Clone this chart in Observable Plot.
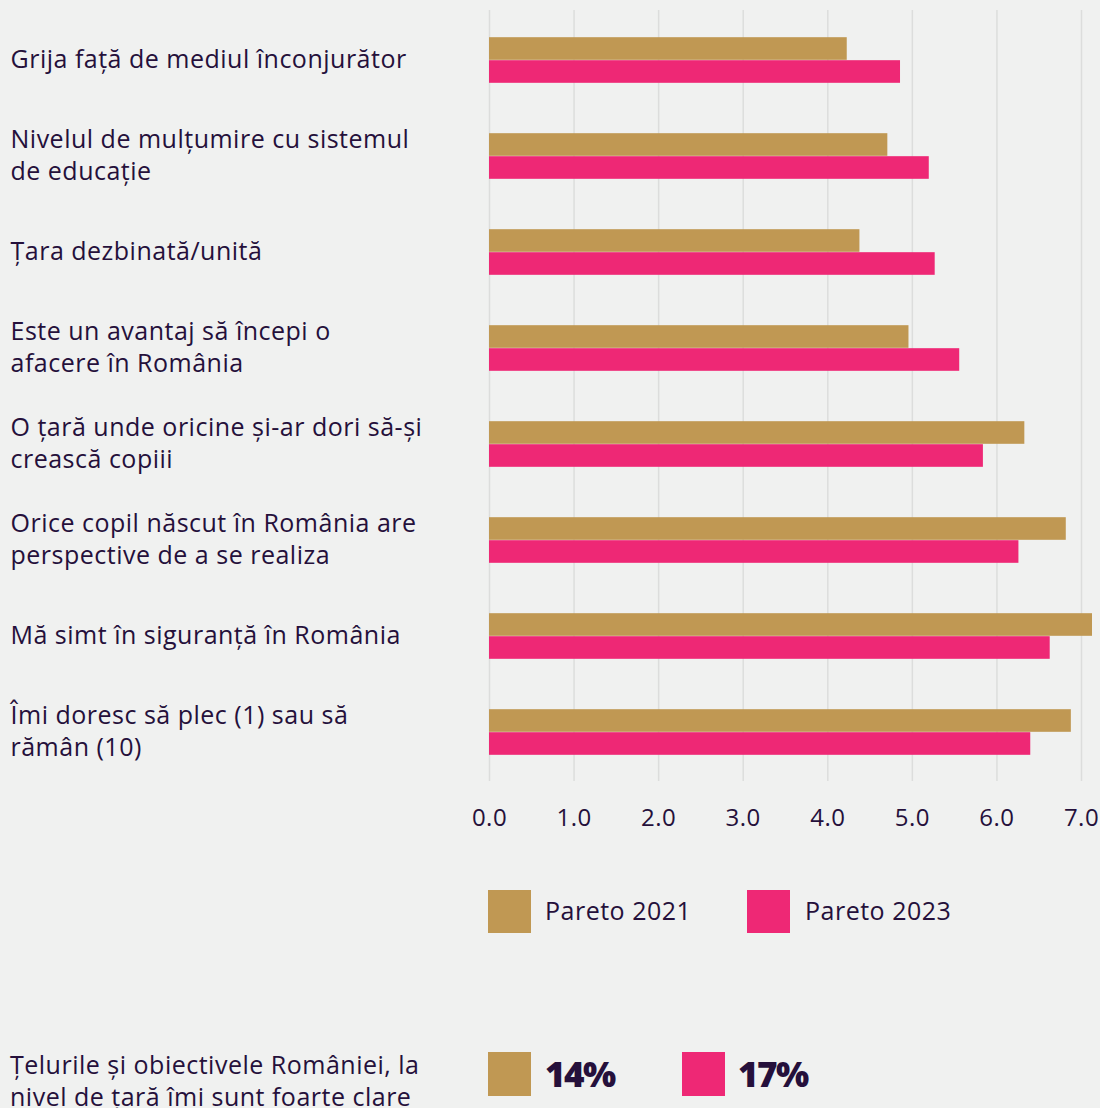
<!DOCTYPE html>
<html>
<head>
<meta charset="utf-8">
<script src="https://cdn.jsdelivr.net/npm/d3@7"></script>
<script src="https://cdn.jsdelivr.net/npm/@observablehq/plot@0.6"></script>
<style>
  html, body { margin: 0; padding: 0; background: #f0f1f0; }
  body { width: 1100px; height: 1108px; position: relative; overflow: hidden; font-family: "Open Sans", sans-serif; color: #25103b; }
  #chart { position: absolute; left: 0; top: 0; }
  #chart svg text { letter-spacing: 0.5px; font-weight: 500; }
  .sw { position: absolute; width: 43px; height: 43px; }
  .lt { position: absolute; font-size: 25px; line-height: 32px; white-space: nowrap; letter-spacing: 0.5px; font-weight: 500; }
  .big { position: absolute; font-size: 35px; font-weight: 800; line-height: 44px; letter-spacing: -1.5px; }
</style>
</head>
<body>
<div id="chart"></div>
<div id="legend"></div>
<script>
const categories = [
  "Grija față de mediul înconjurător",
  "Nivelul de mulțumire cu sistemul\nde educație",
  "Țara dezbinată/unită",
  "Este un avantaj să începi o\nafacere în România",
  "O țară unde oricine și-ar dori să-și\ncrească copiii",
  "Orice copil născut în România are\nperspective de a se realiza",
  "Mă simt în siguranță în România",
  "Îmi doresc să plec (1) sau să\nrămân (10)"
];
const pareto2021 = [4.23, 4.71, 4.38, 4.96, 6.33, 6.82, 7.13, 6.88];
const pareto2023 = [4.86, 5.20, 5.27, 5.56, 5.84, 6.26, 6.63, 6.40];
const seriesNames = ["Pareto 2021", "Pareto 2023"];
const seriesColors = ["#c09853", "#ee2875"];
const xTicks = [0, 1, 2, 3, 4, 5, 6, 7];
const extraLabel = "Țelurile și obiectivele României, la\nnivel de țară îmi sunt foarte clare";
const extraValues = ["14%", "17%"];

const rows = categories.flatMap((c, i) => [
  {category: c, series: seriesNames[0], value: pareto2021[i]},
  {category: c, series: seriesNames[1], value: pareto2023[i]}
]);

const plotTop = 10, plotBottom = 781;
const step = (plotBottom - plotTop) / categories.length;
const barH = 23;
const half = step / 2;
const FONT = "'Open Sans', sans-serif";

const chart = Plot.plot({
  width: 1100,
  height: 850,
  marginLeft: 489,
  marginRight: 19,
  marginTop: plotTop,
  marginBottom: 850 - plotBottom,
  style: {background: "transparent", fontFamily: FONT, color: "#25103b"},
  x: {domain: [0, 7], ticks: xTicks, tickFormat: d => d.toFixed(1), label: null},
  y: {domain: categories, padding: 0, label: null},
  color: {domain: seriesNames, range: seriesColors},
  marks: [
    Plot.gridX(xTicks, {stroke: "#dcdddc", strokeOpacity: 1, strokeWidth: 1.5}),
    Plot.barX(rows.filter(d => d.series === seriesNames[0]), {
      x: "value", y: "category", fill: "series",
      insetTop: half - barH, insetBottom: half
    }),
    Plot.barX(rows.filter(d => d.series === seriesNames[1]), {
      x: "value", y: "category", fill: "series",
      insetTop: half, insetBottom: half - barH
    }),
    Plot.axisX({ticks: xTicks, tickFormat: d => d.toFixed(1), tickSize: 0, tickPadding: 27, fontSize: 24, fill: "#25103b", label: null}),
    Plot.axisY({tickSize: 0, tickPadding: 0, textAnchor: "start", dx: -479, dy: -3, fontSize: 25, lineHeight: 1.28, fill: "#25103b", label: null})
  ]
});
document.getElementById("chart").appendChild(chart);

const lg = document.getElementById("legend");
function add(cls, style, text) {
  const d = document.createElement("div");
  d.className = cls;
  Object.assign(d.style, style);
  if (text != null) d.textContent = text;
  lg.appendChild(d);
}
add("sw", {left: "488px", top: "890px", background: seriesColors[0]});
add("lt", {left: "545px", top: "894px"}, seriesNames[0]);
add("sw", {left: "747px", top: "890px", background: seriesColors[1]});
add("lt", {left: "805px", top: "894px"}, seriesNames[1]);

const lines = extraLabel.split("\n");
add("lt", {left: "10px", top: "1048px"}, lines[0]);
add("lt", {left: "10px", top: "1080px"}, lines[1]);
add("sw", {left: "488px", top: "1052px", height: "44px", background: seriesColors[0]});
add("big", {left: "545px", top: "1052px"}, extraValues[0]);
add("sw", {left: "682px", top: "1052px", height: "44px", background: seriesColors[1]});
add("big", {left: "738px", top: "1052px"}, extraValues[1]);
</script>
</body>
</html>
